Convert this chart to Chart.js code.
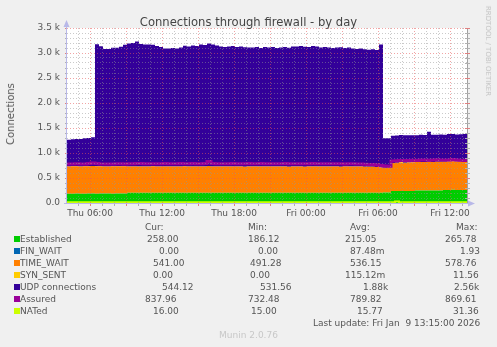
<!DOCTYPE html>
<html>
<head>
<meta charset="utf-8">
<title>Connections through firewall - by day</title>
<script src="https://cdn.jsdelivr.net/npm/chart.js@4/dist/chart.umd.min.js"></script>
<style>
  body { margin: 0; background: #f0f0f0; }
  #wrap { position: relative; width: 497px; height: 347px; font-family: 'DejaVu Sans', sans-serif; color: #555; }
  #chart { position: absolute; left: 0; top: 0; }
  .txt { position: absolute; white-space: pre; font-size: 9px; line-height: 12px; height: 12px; }
  .sq { position: absolute; width: 6px; height: 6px; }
</style>
</head>
<body>
<div id="wrap">
  <canvas id="chart" width="497" height="347"></canvas>
</div>
<script>
'use strict';

// one sample every 20 minutes, first one Thu 04:05 (hours counted from Thu 00:00)
const startHour = 4 + 5 / 60;
const stepHours = 1 / 3;

const established = [
  186, 187, 188, 187, 186, 189, 188, 187, 190, 188,
  189, 187, 188, 190, 189, 204, 205, 203, 206, 204,
  205, 207, 203, 204, 206, 205, 204, 203, 205, 206,
  204, 205, 207, 206, 204, 205, 203, 204, 206, 205,
  204, 206, 205, 203, 204, 205, 206, 204, 205, 203,
  204, 206, 205, 204, 205, 203, 204, 205, 206, 204,
  203, 205, 204, 206, 205, 204, 203, 205, 204, 206,
  205, 204, 203, 205, 204, 206, 205, 204, 207, 208,
  209, 240, 241, 239, 240, 242, 241, 250, 251, 249,
  252, 250, 251, 250, 262, 261, 263, 262, 260, 259,
  258
];
const finWait = [
  0, 0, 0, 0, 0, 0, 0, 0, 0, 0,
  0, 0, 0, 0, 0, 0, 0, 0, 0, 0,
  0, 0, 0, 0, 0, 0, 0, 0, 0, 0,
  0, 0, 0, 0, 0, 0, 0, 0, 0, 0,
  2, 1, 0, 0, 0, 0, 0, 0, 0, 0,
  0, 0, 0, 0, 0, 0, 0, 0, 0, 0,
  0, 0, 0, 0, 0, 0, 0, 0, 0, 0,
  0, 0, 0, 0, 0, 0, 0, 0, 0, 0,
  0, 0, 0, 0, 0, 0, 0, 0, 0, 0,
  0, 0, 0, 0, 0, 0, 0, 0, 0, 0,
  0
];
const timeWait = [
  544, 546, 545, 543, 547, 545, 550, 548, 545, 544,
  543, 546, 545, 544, 546, 525, 524, 526, 523, 525,
  524, 526, 527, 525, 524, 523, 526, 525, 524, 527,
  525, 526, 524, 525, 527, 535, 526, 524, 523, 525,
  526, 524, 525, 527, 523, 524, 526, 525, 524, 526,
  525, 523, 524, 526, 525, 524, 527, 525, 524, 523,
  525, 526, 524, 523, 525, 524, 526, 525, 523, 524,
  525, 524, 526, 523, 522, 520, 518, 515, 505, 495,
  500, 560, 565, 568, 566, 570, 572, 568, 570, 572,
  575, 570, 573, 576, 565, 568, 570, 567, 572, 575,
  541
];
const synSent = [
  0, 0, 0, 0, 0, 0, 0, 0, 0, 0,
  0, 0, 0, 0, 0, 0, 0, 0, 0, 0,
  0, 0, 0, 0, 0, 0, 0, 0, 0, 0,
  0, 0, 0, 0, 0, 0, 0, 0, 0, 0,
  0, 0, 0, 0, 0, 0, 0, 0, 0, 0,
  0, 0, 0, 0, 0, 0, 0, 0, 0, 0,
  0, 0, 0, 0, 0, 0, 0, 0, 0, 0,
  0, 0, 0, 0, 0, 0, 0, 0, 0, 0,
  0, 0, 0, 11, 0, 0, 0, 0, 0, 0,
  0, 0, 0, 0, 0, 0, 0, 0, 0, 0,
  0
];
const udp = [
  535, 540, 548, 552, 560, 568, 575, 2440, 2400, 2350,
  2350, 2370, 2370, 2390, 2430, 2460, 2470, 2500, 2450, 2440,
  2440, 2430, 2410, 2390, 2360, 2360, 2370, 2360, 2380, 2410,
  2400, 2420, 2410, 2440, 2430, 2450, 2440, 2420, 2400, 2390,
  2400, 2410, 2390, 2400, 2390, 2380, 2380, 2390, 2370, 2390,
  2380, 2390, 2370, 2380, 2390, 2380, 2400, 2400, 2410, 2400,
  2390, 2410, 2400, 2380, 2390, 2380, 2370, 2380, 2390, 2370,
  2380, 2360, 2350, 2360, 2350, 2340, 2350, 2340, 2460, 590,
  585, 545, 545, 540, 550, 545, 540, 535, 545, 540,
  600, 545, 540, 545, 540, 550, 545, 540, 545, 544,
  544
];
const assured = [
  780, 782, 785, 780, 778, 790, 800, 790, 782, 778,
  782, 780, 785, 783, 781, 786, 784, 788, 790, 785,
  783, 787, 786, 784, 788, 785, 783, 786, 789, 784,
  786, 788, 785, 787, 790, 830, 792, 786, 784, 787,
  785, 788, 786, 784, 787, 789, 786, 784, 788, 785,
  786, 783, 787, 785, 788, 786, 784, 787, 785, 783,
  786, 788, 785, 784, 787, 785, 783, 786, 784, 782,
  785, 783, 780, 778, 775, 772, 768, 760, 750, 740,
  735, 840, 845, 850, 848, 852, 855, 850, 858, 860,
  855, 862, 865, 860, 858, 862, 869, 860, 855, 850,
  838
];
const nated = [
  15, 16, 16, 15, 16, 16, 16, 15, 16, 16,
  16, 15, 16, 16, 16, 15, 16, 16, 16, 16,
  16, 16, 15, 16, 16, 16, 16, 15, 16, 16,
  16, 16, 16, 15, 16, 16, 16, 16, 16, 15,
  16, 16, 16, 16, 15, 16, 16, 16, 16, 16,
  15, 16, 16, 16, 16, 16, 15, 16, 16, 16,
  16, 16, 15, 16, 16, 16, 16, 16, 15, 16,
  16, 16, 16, 16, 15, 16, 16, 16, 16, 16,
  16, 16, 31, 16, 16, 15, 16, 16, 16, 16,
  16, 16, 15, 16, 16, 16, 16, 15, 16, 16,
  16
];

const seriesNames = ['Established', 'FIN_WAIT', 'TIME_WAIT', 'SYN_SENT', 'UDP connections', 'Assured', 'NATed'];
const seriesColors = ['#00CC00', '#0066B3', '#FF8000', '#FFCC00', '#330099', '#990099', '#CCFF00'];
const curValues = ['258.00', '0.00', '541.00', '0.00', '544.12', '837.96', '16.00'];
const minValues = ['186.12', '0.00', '491.28', '0.00', '531.56', '732.48', '15.00'];
const avgValues = ['215.05', '87.48m', '536.15', '115.12m', '1.88k', '789.82', '15.77'];
const maxValues = ['265.78', '1.93', '578.76', '11.56', '2.56k', '869.61', '31.36'];

const xLabelHours = [6, 12, 18, 24, 30, 36];
const xLabels = ['Thu 06:00', 'Thu 12:00', 'Thu 18:00', 'Fri 00:00', 'Fri 06:00', 'Fri 12:00'];
const yLabelValues = [0, 500, 1000, 1500, 2000, 2500, 3000, 3500];
const yLabels = ['0.0', '0.5 k', '1.0 k', '1.5 k', '2.0 k', '2.5 k', '3.0 k', '3.5 k'];

// grid: one line per hour / per 100, stronger ones every 3 hours / per 500
const hourGrid = [];
for (let h = 5; h <= 37; h++) hourGrid.push(h);
const valueGrid = [];
for (let v = 0; v <= 3500; v += 100) valueGrid.push(v);

const majorGrid = 'rgba(230,90,90,0.55)';
const minorGrid = 'rgba(150,150,150,0.5)';
const axisColor = '#b8b8e8';

function toPoints(values) {
  return values.map((v, i) => ({ x: startHour + i * stepHours, y: v }));
}

// 'before' keeps each sample flat until the next one, like rrdtool's steps
const areaSeries = [established, finWait, timeWait, synSent, udp];
const datasets = areaSeries.map((values, i) => ({
  label: seriesNames[i],
  data: toPoints(values),
  backgroundColor: seriesColors[i],
  borderColor: seriesColors[i],
  borderWidth: 0,
  pointRadius: 0,
  stepped: 'before',
  fill: i === 0 ? 'origin' : '-1',
  stack: 'conn'
}));
datasets.push({
  label: seriesNames[5], data: toPoints(assured), borderColor: seriesColors[5],
  borderWidth: 3, pointRadius: 0, stepped: 'before', fill: false, stack: 'assured', order: -1
});
datasets.push({
  label: seriesNames[6], data: toPoints(nated), borderColor: seriesColors[6],
  borderWidth: 2, pointRadius: 0, stepped: 'before', fill: false, stack: 'nated', order: -1
});

const muninFrame = {
  id: 'muninFrame',
  beforeDraw(chart) {
    const { ctx, chartArea: a } = chart;
    ctx.save();
    ctx.fillStyle = '#ffffff';
    ctx.fillRect(a.left, a.top, a.right - a.left, a.bottom - a.top);
    ctx.restore();
  },
  afterDraw(chart) {
    const { ctx, chartArea: a, scales } = chart;
    ctx.save();
    ctx.lineWidth = 1;
    // right frame with small ticks
    ctx.strokeStyle = '#a0a0a0';
    ctx.beginPath();
    ctx.moveTo(a.right + 0.5, a.top);
    ctx.lineTo(a.right + 0.5, a.bottom);
    ctx.stroke();
    for (const t of scales.y.ticks) {
      const y = Math.round(scales.y.getPixelForValue(t.value)) + 0.5;
      ctx.strokeStyle = t.value % 500 === 0 ? '#e08080' : '#b0b0b0';
      ctx.beginPath();
      ctx.moveTo(a.right - 2, y);
      ctx.lineTo(a.right + 3, y);
      ctx.stroke();
    }
    // axes with arrows
    ctx.strokeStyle = axisColor;
    ctx.fillStyle = axisColor;
    ctx.beginPath();
    ctx.moveTo(a.left - 0.5, a.bottom);
    ctx.lineTo(a.left - 0.5, a.top - 2);
    ctx.moveTo(a.left - 3, a.bottom + 0.5);
    ctx.lineTo(a.right + 2, a.bottom + 0.5);
    ctx.stroke();
    ctx.beginPath();
    ctx.moveTo(a.left - 0.5, a.top - 8);
    ctx.lineTo(a.left - 3.5, a.top - 1);
    ctx.lineTo(a.left + 2.5, a.top - 1);
    ctx.fill();
    ctx.beginPath();
    ctx.moveTo(a.right + 8, a.bottom + 0.5);
    ctx.lineTo(a.right + 1, a.bottom - 2.5);
    ctx.lineTo(a.right + 1, a.bottom + 3.5);
    ctx.fill();
    ctx.restore();
  }
};

Chart.defaults.font.family = "'DejaVu Sans', sans-serif";

new Chart(document.getElementById('chart'), {
  type: 'line',
  data: { datasets: datasets },
  options: {
    responsive: false,
    animation: false,
    devicePixelRatio: 1,
    layout: { padding: { top: 28, right: 30, left: 0, bottom: 0 } },
    plugins: { legend: { display: false }, tooltip: { enabled: false } },
    scales: {
      x: {
        type: 'linear',
        min: startHour,
        max: startHour + (established.length - 1) * stepHours,
        afterBuildTicks: s => { s.ticks = hourGrid.map(v => ({ value: v })); },
        afterFit: s => { s.height = 144; },
        grid: {
          z: 1,
          color: c => (c.tick && c.tick.value % 3 === 0 ? majorGrid : minorGrid),
          tickLength: 3,
          tickColor: c => (c.tick && c.tick.value % 3 === 0 ? '#e08080' : '#b0b0b0')
        },
        border: { display: false, dash: [1, 2] },
        ticks: {
          autoSkip: false,
          maxRotation: 0,
          padding: 2,
          color: '#555',
          font: { size: 9 },
          callback: v => {
            const k = xLabelHours.indexOf(v);
            return k < 0 ? '' : xLabels[k];
          }
        }
      },
      y: {
        stacked: true,
        min: 0,
        max: 3500,
        afterBuildTicks: s => { s.ticks = valueGrid.map(v => ({ value: v })); },
        afterFit: s => { s.width = 67; },
        grid: {
          z: 1,
          color: c => (c.tick && c.tick.value % 500 === 0 ? majorGrid : minorGrid),
          tickLength: 2,
          tickColor: c => (c.tick && c.tick.value % 500 === 0 ? '#e08080' : '#b0b0b0')
        },
        border: { display: false, dash: [1, 2] },
        ticks: {
          autoSkip: false,
          padding: 5,
          color: '#555',
          font: { size: 9 },
          callback: v => {
            const k = yLabelValues.indexOf(v);
            return k < 0 ? '' : yLabels[k];
          }
        }
      }
    }
  },
  plugins: [muninFrame]
});

// texts around the graph, munin style
const wrap = document.getElementById('wrap');
function addText(text, left, centerY, extra) {
  const d = document.createElement('div');
  d.className = 'txt';
  d.textContent = text;
  d.style.left = left + 'px';
  d.style.top = (centerY - 6) + 'px';
  if (extra) Object.assign(d.style, extra);
  wrap.appendChild(d);
  return d;
}

addText('Connections through firewall - by day', 0, 21.5,
  { width: '497px', textAlign: 'center', fontSize: '11.6px', color: '#444' });
addText('Connections', 11, 113.5,
  { fontSize: '10px', height: 'auto', transform: 'translate(-50%, -50%) rotate(-90deg)', top: '113.5px' });
addText('RRDTOOL / TOBI OETIKER', 488, 51,
  { fontSize: '7px', color: '#c4c4c4', height: 'auto', transform: 'translate(-50%, -50%) rotate(90deg)', top: '51px' });

const headerY = 226.5;
const rowY0 = 239;
const rowGap = 12;
const colHeads = [['Cur:', 145], ['Min:', 248], ['Avg:', 350], ['Max:', 456]];
const curLeft = [147, 159, 153, 153, 162, 145, 153];
const minLeft = [248, 258, 250, 250, 260, 248, 251];
const avgLeft = [345, 350, 350, 345, 363, 350, 357];
const maxLeft = [445, 460, 445, 453, 454, 445, 453];

colHeads.forEach(([t, x]) => addText(t, x, headerY));
seriesNames.forEach((name, i) => {
  const y = rowY0 + i * rowGap;
  const sq = document.createElement('div');
  sq.className = 'sq';
  sq.style.left = '14px';
  sq.style.top = (y - 3) + 'px';
  sq.style.background = seriesColors[i];
  wrap.appendChild(sq);
  addText(name, 20, y);
  addText(curValues[i], curLeft[i], y);
  addText(minValues[i], minLeft[i], y);
  addText(avgValues[i], avgLeft[i], y);
  addText(maxValues[i], maxLeft[i], y);
});
addText('Last update: Fri Jan  9 13:15:00 2026', 313, rowY0 + 7 * rowGap);
addText('Munin 2.0.76', 0, rowY0 + 8 * rowGap,
  { width: '497px', textAlign: 'center', color: '#c8c8c8' });
</script>
</body>
</html>
